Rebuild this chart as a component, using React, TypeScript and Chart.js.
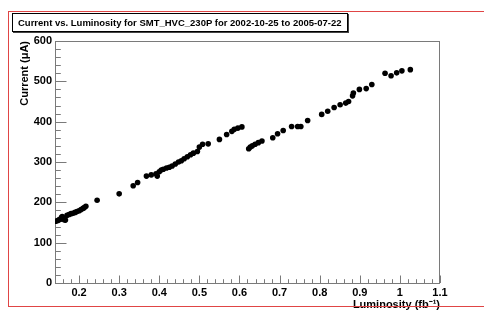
import React, { useEffect, useRef } from "react";
import { Chart, registerables } from "chart.js";

Chart.register(...registerables);

const luminosity = [
  0.142, 0.147, 0.150, 0.153, 0.156, 0.158, 0.160, 0.163, 0.166, 0.170,
  0.175, 0.180, 0.185, 0.190, 0.195, 0.200, 0.205, 0.210, 0.213, 0.217,
  0.245, 0.300, 0.335, 0.346, 0.368, 0.380, 0.392, 0.395, 0.400, 0.405,
  0.410, 0.418, 0.425, 0.432, 0.440, 0.448, 0.455, 0.462, 0.470, 0.478,
  0.485, 0.495, 0.500, 0.508, 0.522, 0.550, 0.568, 0.581, 0.587, 0.596,
  0.606, 0.623, 0.627, 0.632, 0.639, 0.647, 0.656, 0.683, 0.695, 0.709,
  0.730, 0.745, 0.753, 0.770, 0.805, 0.820, 0.836, 0.851, 0.865, 0.872,
  0.882, 0.884, 0.899, 0.916, 0.930, 0.963, 0.978, 0.992, 1.005, 1.026,
];
const current = [
  153, 155, 157, 158, 162, 165, 160, 157, 156, 168,
  170, 172, 173, 175, 177, 179, 182, 185, 187, 190,
  205, 221, 241, 249, 265, 268, 271, 265, 276, 280,
  282, 285, 287, 290, 295, 300, 303, 308, 313, 318,
  322, 326, 337, 344, 345, 356, 368, 376, 381, 384,
  387, 333, 337, 340, 344, 348, 352, 360, 370, 378,
  388, 388, 388, 403, 418, 426, 435, 442, 446, 450,
  464, 471, 480, 482, 492, 520, 514, 521, 526, 529,
];
const xTickValues = [0.2, 0.3, 0.4, 0.5, 0.6, 0.7, 0.8, 0.9, 1.0, 1.1];
const yTickValues = [0, 100, 200, 300, 400, 500, 600];

const X_MIN = 0.14;
const X_MAX = 1.1;
const Y_MIN = 0;
const Y_MAX = 600;
const FONT = "'Liberation Sans', Arial, Helvetica, sans-serif";

const frameTicks = {
  id: "frameTicks",
  beforeDatasetsDraw(chart: any) {
    const { ctx, chartArea: a, scales } = chart;
    const xs = scales.x;
    const ys = scales.y;
    ctx.save();
    ctx.strokeStyle = "#7a7a7a";
    ctx.lineWidth = 1;
    ctx.strokeRect(a.left + 0.5, a.top + 0.5, a.right - a.left - 1, a.bottom - a.top);
    ctx.beginPath();
    const xStep = 0.02;
    for (let i = 0; ; i++) {
      const v = Math.round((X_MIN + i * xStep) * 1000) / 1000;
      if (v > X_MAX + 1e-9) break;
      const major = Math.abs(v * 10 - Math.round(v * 10)) < 1e-6;
      const len = major ? 7.5 : 3.8;
      const px = Math.round(xs.getPixelForValue(v)) + 0.5;
      ctx.moveTo(px, a.bottom);
      ctx.lineTo(px, a.bottom - len);
    }
    for (let v = Y_MIN; v <= Y_MAX; v += 20) {
      const major = v % 100 === 0;
      const len = major ? 11.5 : 5.8;
      const py = Math.round(ys.getPixelForValue(v)) + 0.5;
      ctx.moveTo(a.left, py);
      ctx.lineTo(a.left + len, py);
    }
    ctx.stroke();
    ctx.restore();
  },
};

export default function App() {
  const ref = useRef<HTMLCanvasElement>(null);
  useEffect(() => {
    const data = luminosity.map((x, i) => ({ x, y: current[i] }));
    const chart = new Chart(ref.current as HTMLCanvasElement, {
      type: "scatter",
      data: {
        datasets: [
          {
            data,
            backgroundColor: "#000",
            borderColor: "#000",
            borderWidth: 0,
            pointRadius: 2.8,
            pointHoverRadius: 2.8,
          },
        ],
      },
      options: {
        animation: false,
        responsive: false,
        devicePixelRatio: 1,
        layout: { padding: { left: 0, top: 41, right: 44, bottom: 0 } },
        plugins: { legend: { display: false }, tooltip: { enabled: false }, title: { display: false } },
        scales: {
          x: {
            type: "linear",
            min: X_MIN,
            max: X_MAX,
            grid: { display: false, drawTicks: false, tickLength: 0 },
            border: { display: false },
            afterBuildTicks: (s: any) => {
              s.ticks = xTickValues.map((v) => ({ value: v }));
            },
            afterFit: (s: any) => {
              s.height = 27;
            },
            ticks: {
              autoSkip: false,
              maxRotation: 0,
              padding: 3,
              color: "#000",
              font: { family: FONT, size: 11, weight: "bold" },
              callback: (v: any) => (Math.abs(v - 1) < 1e-9 ? "1" : String(Math.round(v * 10) / 10)),
            },
            title: {
              display: true,
              text: "Luminosity (fb\u207B\u00B9)",
              align: "end",
              color: "#000",
              font: { family: FONT, size: 11, weight: "bold", lineHeight: 1 },
              padding: { top: 0, bottom: 0 },
            },
          },
          y: {
            type: "linear",
            min: Y_MIN,
            max: Y_MAX,
            grid: { display: false, drawTicks: false, tickLength: 0 },
            border: { display: false },
            afterBuildTicks: (s: any) => {
              s.ticks = yTickValues.map((v) => ({ value: v }));
            },
            afterFit: (s: any) => {
              s.width = 55;
            },
            ticks: {
              autoSkip: false,
              padding: 3,
              color: "#000",
              font: { family: FONT, size: 11, weight: "bold" },
            },
            title: {
              display: true,
              text: "Current (\u03BCA)",
              align: "end",
              color: "#000",
              font: { family: FONT, size: 11, weight: "bold" },
              padding: { top: 18, bottom: 0 },
            },
          },
        },
      },
      plugins: [frameTicks],
    });
    return () => chart.destroy();
  }, []);

  return (
    <div style={{ position: "fixed", left: 0, top: 0, width: 484, height: 310, background: "#fff", overflow: "hidden" }}>
      <canvas ref={ref} width={484} height={310} style={{ position: "absolute", left: 0, top: 0, width: 484, height: 310 }} />
      <div
        style={{
          position: "absolute",
          left: 8,
          top: 11,
          width: 490,
          height: 296,
          border: "1px solid #e04545",
          boxSizing: "border-box",
          pointerEvents: "none",
        }}
      />
      <div
        style={{
          position: "absolute",
          left: 12,
          top: 13,
          width: 336,
          height: 19,
          boxSizing: "border-box",
          border: "1px solid #000",
          boxShadow: "1px 1px 0 #444",
          background: "#fff",
          fontFamily: FONT,
          fontWeight: "bold",
          fontSize: 9.5,
          lineHeight: "17px",
          paddingLeft: 5,
          whiteSpace: "nowrap",
          color: "#000",
        }}
      >
        Current vs. Luminosity for SMT_HVC_230P for 2002-10-25 to 2005-07-22
      </div>
    </div>
  );
}
